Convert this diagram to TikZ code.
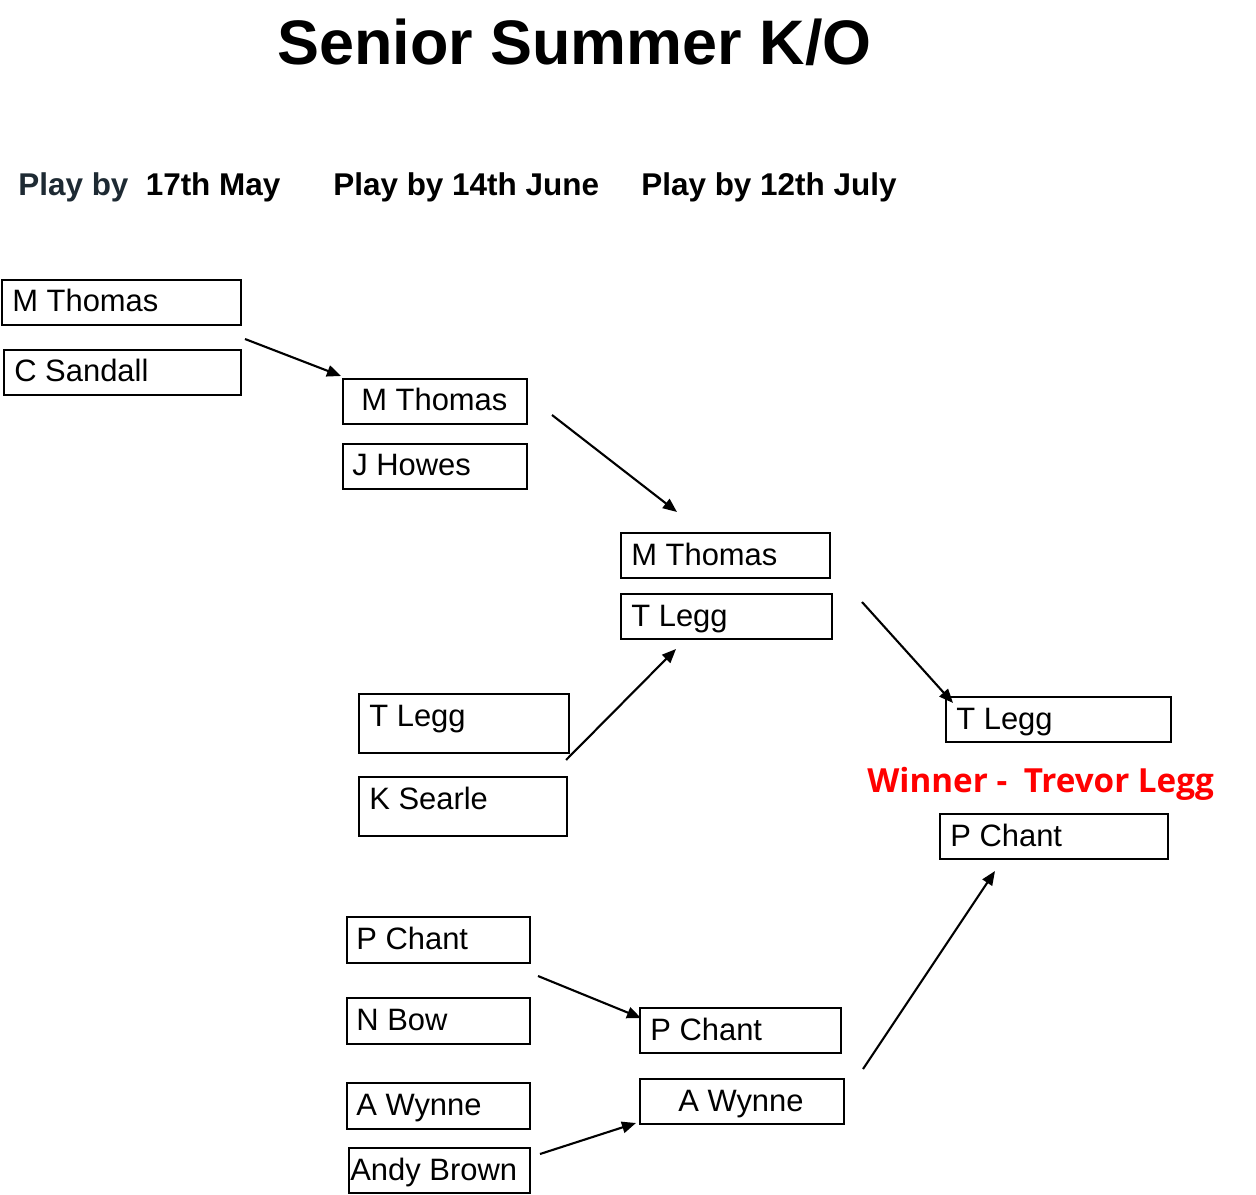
\documentclass[tikz,border=0pt]{standalone}
\usepackage{fontspec}
\setmainfont{Liberation Sans}
\newfontfamily\winnerfont{Open Sans}
\usetikzlibrary{arrows.meta}
\definecolor{slate}{HTML}{1E2A33}
\definecolor{winred}{HTML}{FF0000}
\begin{document}
\begin{tikzpicture}[x=0.02cm,y=-0.02cm,
                    entry box/.style={draw,line width=1.4pt},
                    entry name/.style={anchor=base west,inner sep=0pt,font=\fontsize{17.6}{20}\selectfont},
                    round head/.style={anchor=base west,inner sep=0pt,font=\fontsize{17.9}{20}\selectfont\bfseries},
                    win arrow/.style={-{Triangle[length=8pt,width=6.5pt]},line width=1.2pt,shorten >=0pt}]

        \useasboundingbox (0,0) rectangle (1256,1195);

        % Title and round headings
        \node[anchor=base west,inner sep=0pt,font=\fontsize{35.8}{40}\selectfont\bfseries] (title) at (277,65) {Senior Summer K/O};
        \node[round head] (head1) at (18,196) {\textcolor{slate}{Play by}\hspace{0.55em}17th May};
        \node[round head] (head2) at (333,196) {Play by 14th June};
        \node[round head] (head3) at (641,196) {Play by 12th July};

        % Round one boxes
        \draw[entry box] (2,280) rectangle (241,325);
        \node[entry name] (r1a) at (12,312) {M Thomas};
        \draw[entry box] (4,350) rectangle (241,395);
        \node[entry name] (r1b) at (14,382) {C Sandall};
        \draw[entry box] (359,694) rectangle (569,753);
        \node[entry name] (r1c) at (369,726) {T Legg};
        \draw[entry box] (359,777) rectangle (567,836);
        \node[entry name] (r1d) at (369,809) {K Searle};
        \draw[entry box] (347,917) rectangle (530,963);
        \node[entry name] (r1e) at (356,949) {P Chant};
        \draw[entry box] (347,998) rectangle (530,1044);
        \node[entry name] (r1f) at (356,1030) {N Bow};
        \draw[entry box] (347,1083) rectangle (530,1129);
        \node[entry name] (r1g) at (356,1115) {A Wynne};
        \draw[entry box] (349,1148) rectangle (530,1193);
        \node[entry name] (r1h) at (350,1180) {Andy Brown};

        % Round two boxes
        \draw[entry box] (343,379) rectangle (527,424);
        \node[entry name] (r2a) at (361,411) {M Thomas};
        \draw[entry box] (343,444) rectangle (527,489);
        \node[entry name] (r2b) at (352,476) {J Howes};
        \draw[entry box] (640,1008) rectangle (841,1053);
        \node[entry name] (r2c) at (650,1040) {P Chant};
        \draw[entry box] (640,1079) rectangle (844,1124);
        \node[entry name] (r2d) at (678,1111) {A Wynne};

        % Round three boxes
        \draw[entry box] (621,533) rectangle (830,578);
        \node[entry name] (r3a) at (631,565) {M Thomas};
        \draw[entry box] (621,594) rectangle (832,639);
        \node[entry name] (r3b) at (631,626) {T Legg};

        % Final boxes
        \draw[entry box] (946,697) rectangle (1171,742);
        \node[entry name] (fa) at (956,729) {T Legg};
        \draw[entry box] (940,814) rectangle (1168,859);
        \node[entry name] (fb) at (950,846) {P Chant};

        \node[anchor=base west,inner sep=0pt,text=winred,font=\winnerfont\fontsize{18.9}{22}\selectfont\bfseries] (winner) at (867,792) {Winner -\hspace{0.5em}Trevor Legg};

        % Arrow ends
        \coordinate (a1s) at (245,339);  \coordinate (a1e) at (341,376);
        \coordinate (a2s) at (552,415);  \coordinate (a2e) at (677,512);
        \coordinate (a3s) at (566,760);  \coordinate (a3e) at (676,649);
        \coordinate (a4s) at (862,602);  \coordinate (a4e) at (953,703);
        \coordinate (a5s) at (538,976);  \coordinate (a5e) at (641,1018);
        \coordinate (a6s) at (540,1154); \coordinate (a6e) at (636,1123);
        \coordinate (a7s) at (863,1069); \coordinate (a7e) at (995,871);

        % Draw arrows
        \path[win arrow]
            (a1s) edge (a1e)
            (a2s) edge (a2e)
            (a3s) edge (a3e)
            (a4s) edge (a4e)
            (a5s) edge (a5e)
            (a6s) edge (a6e)
            (a7s) edge (a7e);

\end{tikzpicture}
\end{document}
